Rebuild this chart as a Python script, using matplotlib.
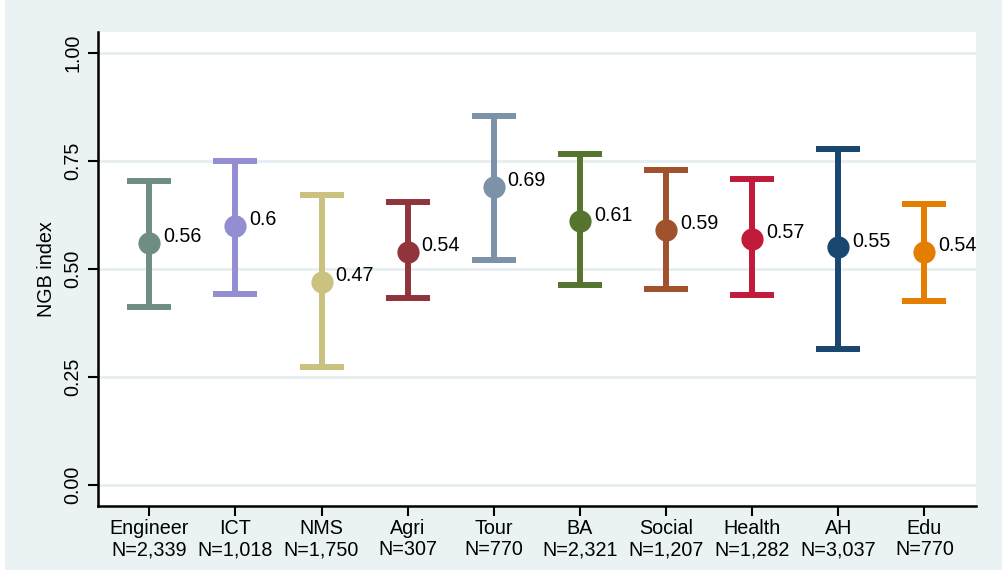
import matplotlib
matplotlib.use("Agg")
import matplotlib.pyplot as plt
from matplotlib.patches import Rectangle

plt.rcParams["font.family"] = ["Liberation Sans", "DejaVu Sans"]

# Field of study, sample size, mean NGB index and 95% CI bounds
fields = ["Engineer", "ICT", "NMS", "Agri", "Tour", "BA", "Social", "Health", "AH", "Edu"]
n_obs = ["2,339", "1,018", "1,750", "307", "770", "2,321", "1,207", "1,282", "3,037", "770"]
means = [0.56, 0.60, 0.47, 0.54, 0.69, 0.61, 0.59, 0.57, 0.55, 0.54]
ci_low = [0.411, 0.441, 0.273, 0.433, 0.520, 0.462, 0.454, 0.440, 0.315, 0.426]
ci_high = [0.704, 0.750, 0.672, 0.654, 0.853, 0.765, 0.730, 0.709, 0.777, 0.651]
colors = ["#6E8E84", "#938DD2", "#CAC27E", "#90353B", "#7B92A8",
          "#55752F", "#A0522D", "#C21A3A", "#1A476F", "#E37E00"]

yticks = [0.0, 0.25, 0.5, 0.75, 1.0]
FS = 14.2

W, H = 1003, 574
fig = plt.figure(figsize=(W / 100, H / 100), dpi=100)
fig.patch.set_facecolor("white")
# graph region background
fig.add_artist(Rectangle((5 / W, 4 / H), 1 - 5 / W, 1 - 4 / H,
                         transform=fig.transFigure, facecolor="#EAF2F3",
                         edgecolor="none", zorder=-10))

left, right, top, bottom = 98, 976, 31.7, 505.7
ax = fig.add_axes([left / W, 1 - bottom / H, (right - left) / W, (bottom - top) / H])
ax.set_facecolor("white")

pos = list(range(1, len(fields) + 1))
for x, m, lo, hi, c in zip(pos, means, ci_low, ci_high, colors):
    ax.errorbar([x], [m], yerr=[[m - lo], [hi - m]], fmt="none",
                ecolor=c, elinewidth=4.3, capsize=15.5, capthick=4.3, zorder=3)
    ax.plot([x], [m], "o", color=c, markersize=16, markeredgewidth=0, zorder=4)
    ax.annotate(f"{m:g}", (x, m), xytext=(10, 4.5), textcoords="offset points",
                ha="left", va="center", fontsize=FS, color="black", zorder=5)

ax.set_xlim(0.404, 10.60)
ax.set_ylim(-0.048, 1.049)

ax.set_yticks(yticks)
ax.set_yticklabels([f"{t:.2f}" for t in yticks], rotation=90, va="center",
                   fontsize=FS)
ax.set_xticks(pos)
ax.set_xticklabels([f"{f}\nN={n}" for f, n in zip(fields, n_obs)],
                   fontsize=FS, linespacing=1.15)
ax.set_ylabel("NGB index", fontsize=FS, labelpad=5)

ax.grid(axis="y", color="#E6EEF1", linewidth=2, zorder=0)
ax.set_axisbelow(True)
ax.tick_params(axis="both", length=7.5, width=1.5, color="black")
ax.tick_params(axis="y", pad=4)
ax.tick_params(axis="x", pad=2)

for side in ["top", "right"]:
    ax.spines[side].set_visible(False)
for side in ["left", "bottom"]:
    ax.spines[side].set_linewidth(1.8)
    ax.spines[side].set_color("black")

fig.savefig("out.png", dpi=100)
